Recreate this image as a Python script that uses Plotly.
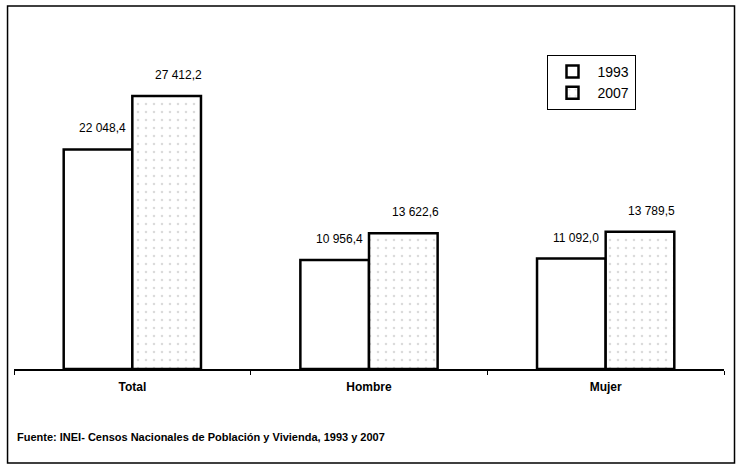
import plotly.graph_objects as go

categories = ["Total", "Hombre", "Mujer"]
values_1993 = [22048.4, 10956.4, 11092.0]
values_2007 = [27412.2, 13622.6, 13789.5]
labels_1993 = ["22 048,4", "10 956,4", "11 092,0"]
labels_2007 = ["27 412,2", "13 622,6", "13 789,5"]
series_names = ["1993", "2007"]
source_text = "Fuente: INEI- Censos Nacionales de Población y Vivienda, 1993 y 2007"

FONT = "Liberation Sans Narrow, Arial Narrow, Liberation Sans, Arial"

fig = go.Figure()
fig.add_trace(go.Bar(
    x=categories, y=values_1993, name=series_names[0],
    marker=dict(color="white", line=dict(color="black", width=2.5)),
))
fig.add_trace(go.Bar(
    x=categories, y=values_2007, name=series_names[1],
    marker=dict(color="white", line=dict(color="black", width=2.5),
                pattern=dict(shape=".", fgcolor="#b5b5b5", bgcolor="white",
                             size=8, solidity=0.08)),
))

for cat, v, t in zip(categories, values_1993, labels_1993):
    fig.add_annotation(x=cat, y=v, text=t, showarrow=False, xshift=-30,
                       yanchor="bottom", yshift=12,
                       font=dict(family=FONT, size=12, color="black"))
for cat, v, t in zip(categories, values_2007, labels_2007):
    fig.add_annotation(x=cat, y=v, text=t, showarrow=False, xshift=46,
                       yanchor="bottom", yshift=12,
                       font=dict(family=FONT, size=12, color="black"))

fig.add_annotation(xref="paper", yref="paper", x=0.002, y=-0.204,
                   xanchor="left", yanchor="middle", showarrow=False,
                   text=source_text,
                   font=dict(family=FONT, size=11, color="black", weight="bold"))

# outer frame
fig.add_shape(type="rect", xref="paper", yref="paper",
              x0=-0.0091, x1=1.0148, y0=-0.282, y1=1.09,
              line=dict(color="black", width=1.5), fillcolor="rgba(0,0,0,0)")

fig.update_layout(
    width=739, height=471,
    margin=dict(l=13.5, r=14.5, t=36, b=102),
    paper_bgcolor="white", plot_bgcolor="white",
    barmode="group", bargap=0.42, bargroupgap=0,
    font=dict(family=FONT, color="black"),
    showlegend=True,
    legend=dict(x=0.75, y=0.943, xanchor="left", yanchor="top",
                bordercolor="black", borderwidth=1, bgcolor="white",
                font=dict(family=FONT, size=14, color="black"),
                itemwidth=40, tracegroupgap=10),
    xaxis=dict(range=[-0.5, 2.5], showline=True, linecolor="black", linewidth=1.5,
               ticks="outside", ticklen=4, tickson="boundaries", tickcolor="black",
               ticklabelstandoff=6,
               tickfont=dict(family=FONT, size=12, color="black", weight="bold"),
               showgrid=False),
    yaxis=dict(range=[0, 33434], visible=False, showgrid=False),
)

fig.write_html("out.html", config={"displayModeBar": False},
               post_script="document.body.style.margin='0';document.body.style.overflow='hidden';")
